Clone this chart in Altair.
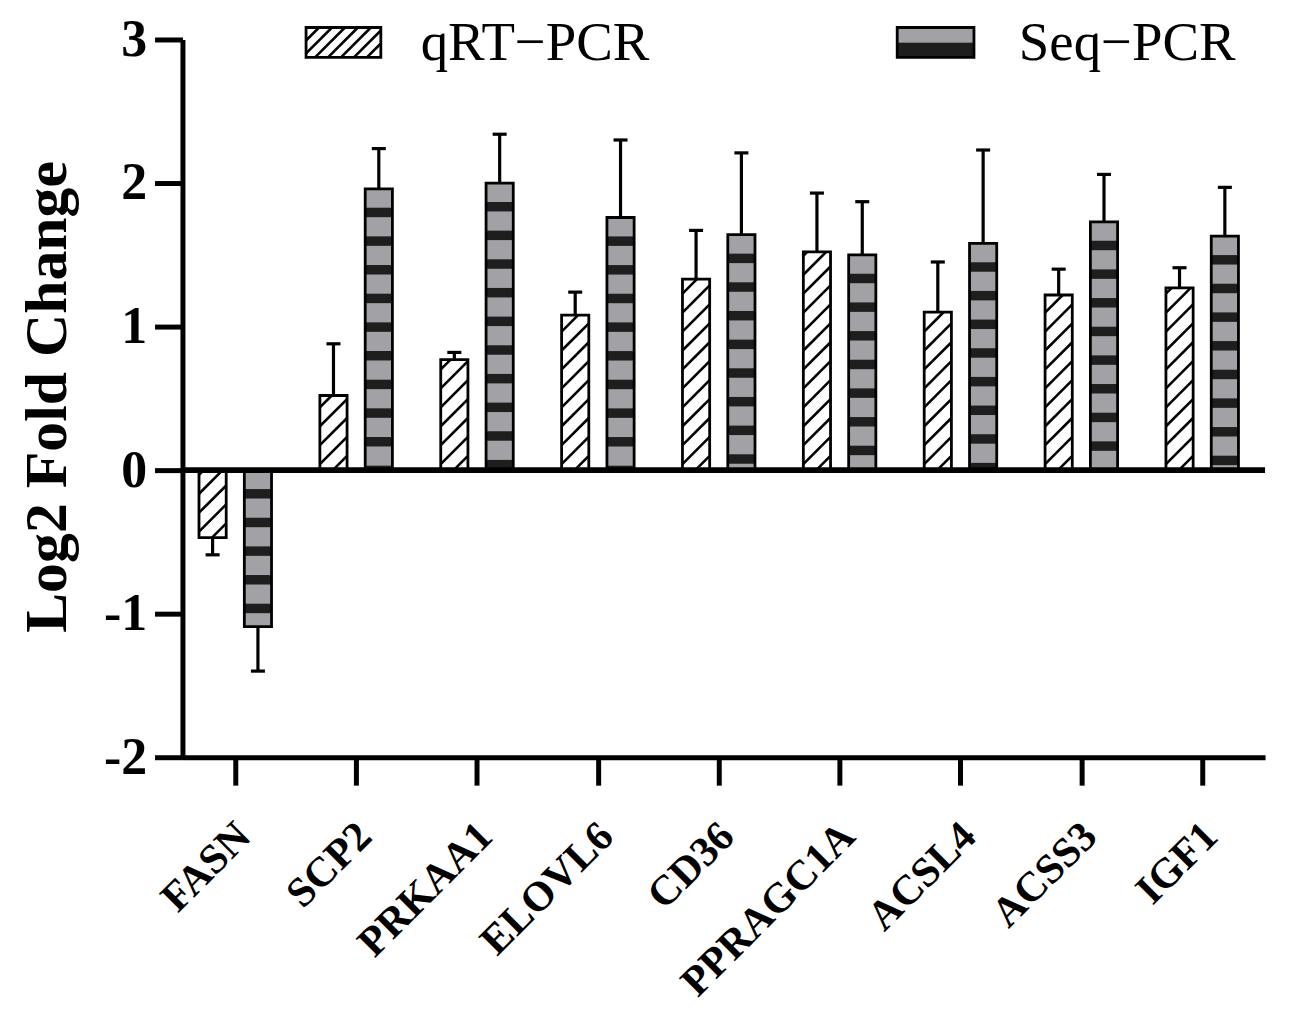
import math
import altair as alt
import pandas as pd

# ---------------- data ----------------
genes = ["FASN", "SCP2", "PRKAA1", "ELOVL6", "CD36", "PPRAGC1A", "ACSL4", "ACSS3", "IGF1"]
qrt = [-0.47, 0.52, 0.77, 1.08, 1.33, 1.52, 1.10, 1.22, 1.27]
qrt_err = [0.12, 0.36, 0.05, 0.16, 0.34, 0.41, 0.35, 0.18, 0.14]
seq = [-1.09, 1.96, 2.00, 1.76, 1.64, 1.50, 1.58, 1.73, 1.63]
seq_err = [0.31, 0.28, 0.34, 0.54, 0.57, 0.37, 0.65, 0.33, 0.34]
series = ["qRT\u2212PCR", "Seq\u2212PCR"]
y_ticks = [-2, -1, 0, 1, 2, 3]

# ---------------- layout / style ----------------
FONT = "Liberation Serif, Times New Roman, serif"
X_DOM = [-0.437, 8.52]
Y_DOM = [-2, 3]
PX_X = 121.25
W = int(round((X_DOM[1] - X_DOM[0]) * PX_X))
H = 720
PX_X = W / (X_DOM[1] - X_DOM[0])
PX_Y = H / (Y_DOM[1] - Y_DOM[0])
GRAY = "#a2a2a6"
DARK = "#1e1e1e"
OFFS = {series[0]: (-0.30, -0.075), series[1]: (0.075, 0.30)}

label_expr = "[" + ",".join("'%s'" % g for g in genes) + "][datum.value]"

xs = alt.Scale(domain=X_DOM, nice=False, zero=False)
ys = alt.Scale(domain=Y_DOM, nice=False, zero=False)
xaxis = alt.Axis(values=list(range(len(genes))), labelExpr=label_expr, title="",
                 grid=False, domainColor="black", domainWidth=5, tickColor="black",
                 tickWidth=5, tickSize=28, labelAngle=-45, labelAlign="right",
                 labelBaseline="middle", labelFont=FONT, labelFontSize=42,
                 labelFontWeight="bold", labelColor="black", labelPadding=44,
                 labelOffset=8, labelLimit=0,
                 labelFlush=False, labelOverlap=False)
yaxis = alt.Axis(values=y_ticks, labelExpr="'' + datum.value", title="Log2 Fold Change",
                 grid=False, domainColor="black", domainWidth=5, tickColor="black",
                 tickWidth=5, tickSize=28, labelFont=FONT, labelFontSize=52,
                 labelFontWeight="bold", labelColor="black", labelPadding=8,
                 labelFlush=False, labelOverlap=False,
                 titleFont=FONT, titleFontSize=60, titleFontWeight="bold",
                 titleColor="black", titleAngle=270, titleX=-135, titleY=358,
                 titleAlign="center", titleBaseline="middle")


def X(f):
    return alt.X(f, type="quantitative", scale=xs, axis=xaxis)


def Y(f):
    return alt.Y(f, type="quantitative", scale=ys, axis=yaxis)


def hatch(x0, x1, y0, y1, spacing=19.0, offset=6.0):
    """45-degree '/' hatch segments clipped to a rectangle (data units)."""
    w = (x1 - x0) * PX_X
    h = (y1 - y0) * PX_Y
    segs = []
    c = offset - math.ceil(w / spacing) * spacing
    while c < h:
        u0 = max(0.0, -c)
        u1 = min(w, h - c)
        if u1 > u0 + 0.5:
            segs.append(dict(hx=x0 + u0 / PX_X, hy=y0 + (c + u0) / PX_Y,
                             hx2=x0 + u1 / PX_X, hy2=y0 + (c + u1) / PX_Y))
        c += spacing
    return segs


def stripes(x0, x1, top, bottom, gap=19.0, band=9.5, period=28.75):
    out = []
    k = 0
    while True:
        a = top - (gap + period * k) / PX_Y
        b = top - (gap + band + period * k) / PX_Y
        if a <= bottom:
            break
        out.append(dict(sx=x0, sx2=x1, sy=a, sy2=max(b, bottom)))
        k += 1
    return out


# ---------------- derived tables ----------------
bar_rows, hatch_rows, stripe_rows = [], [], []
for i, g in enumerate(genes):
    for s, vals, errs in ((series[0], qrt, qrt_err), (series[1], seq, seq_err)):
        v, e = vals[i], errs[i]
        lo, hi = OFFS[s]
        x0, x1 = i + lo, i + hi
        xc = (x0 + x1) / 2
        tip = v + (e if v >= 0 else -e)
        bar_rows.append(dict(gene=g, series=s, x0=x0, x1=x1, xc=xc,
                             cl=xc - 0.058, cr=xc + 0.058, base=0.0, v=v, tip=tip,
                             fillc="white" if s == series[0] else GRAY))
        top, bottom = max(v, 0.0), min(v, 0.0)
        if s == series[0]:
            hatch_rows += hatch(x0, x1, bottom, top)
        else:
            stripe_rows += stripes(x0, x1, top, bottom)

bars = pd.DataFrame(bar_rows)
hatch_df = pd.DataFrame(hatch_rows)
stripe_df = pd.DataFrame(stripe_rows)
zero_df = pd.DataFrame([dict(zx=X_DOM[0], zx2=X_DOM[1], zy=0.0)])


# legend (placed in data space above the plot)
def px_to_x(px):
    return (px - 183.0) / PX_X + X_DOM[0]


def px_to_y(py):
    return Y_DOM[1] - (py - 38.0) / PX_Y


LG_TOP, LG_BOT = px_to_y(26), px_to_y(56)
lg_q = (px_to_x(307), px_to_x(382))
lg_s = (px_to_x(900), px_to_x(977))
legend_box = pd.DataFrame([
    dict(bx=lg_q[0], bx2=lg_q[1], by=LG_BOT, by2=LG_TOP, fillc="white"),
    dict(bx=lg_s[0], bx2=lg_s[1], by=(LG_TOP + LG_BOT) / 2, by2=LG_TOP, fillc=GRAY),
    dict(bx=lg_s[0], bx2=lg_s[1], by=LG_BOT, by2=(LG_TOP + LG_BOT) / 2, fillc=DARK),
])
legend_outline = pd.DataFrame([
    dict(bx=lg_q[0], bx2=lg_q[1], by=LG_BOT, by2=LG_TOP),
    dict(bx=lg_s[0], bx2=lg_s[1], by=LG_BOT, by2=LG_TOP),
])
legend_hatch = pd.DataFrame(hatch(lg_q[0], lg_q[1], LG_BOT, LG_TOP, spacing=13.0, offset=4.0))
legend_text = pd.DataFrame([
    dict(tx=px_to_x(422), ty=px_to_y(59), label=series[0]),
    dict(tx=px_to_x(1022), ty=px_to_y(59), label=series[1]),
])

# ---------------- layers ----------------
stems = alt.Chart(bars).mark_rule(color="black", strokeWidth=3.2).encode(
    x=X("xc"), y=Y("v"), y2="tip")
caps = alt.Chart(bars).mark_rule(color="black", strokeWidth=3.2).encode(
    x=X("cl"), x2="cr", y=Y("tip"))
bar_fill = alt.Chart(bars).mark_rect().encode(
    x=X("x0"), x2="x1", y=Y("base"), y2="v",
    fill=alt.Fill("fillc:N", scale=None))
stripe_layer = alt.Chart(stripe_df).mark_rect(fill=DARK).encode(
    x=X("sx"), x2="sx2", y=Y("sy"), y2="sy2")
hatch_layer = alt.Chart(hatch_df).mark_rule(color="black", strokeWidth=2.6).encode(
    x=X("hx"), y=Y("hy"), x2="hx2", y2="hy2")
bar_outline = alt.Chart(bars).mark_rect(fill="white", fillOpacity=0, stroke="black",
                                        strokeWidth=2.8).encode(
    x=X("x0"), x2="x1", y=Y("base"), y2="v")
zero_line = alt.Chart(zero_df).mark_rule(color="black", strokeWidth=6).encode(
    x=X("zx"), x2="zx2", y=Y("zy"))

lg_fill = alt.Chart(legend_box).mark_rect().encode(
    x=X("bx"), x2="bx2", y=Y("by"), y2="by2", fill=alt.Fill("fillc:N", scale=None))
lg_hatch = alt.Chart(legend_hatch).mark_rule(color="black", strokeWidth=2.6).encode(
    x=X("hx"), y=Y("hy"), x2="hx2", y2="hy2")
lg_outline = alt.Chart(legend_outline).mark_rect(fill="white", fillOpacity=0, stroke="black",
                                                 strokeWidth=2.8).encode(
    x=X("bx"), x2="bx2", y=Y("by"), y2="by2")
lg_text = alt.Chart(legend_text).mark_text(align="left", baseline="alphabetic", font=FONT,
                                           fontSize=55, color="black").encode(
    x=X("tx"), y=Y("ty"), text="label:N")

chart = alt.layer(
    stems, caps, bar_fill, stripe_layer, hatch_layer, bar_outline, zero_line,
    lg_fill, lg_hatch, lg_outline, lg_text
).properties(
    width=W, height=H,
    autosize=alt.AutoSizeParams(type="none"),
    padding={"left": 175, "top": 30, "right": 16, "bottom": 256},
    background="white",
).configure_view(stroke=None)

chart.save("out.html", embed_options={"renderer": "svg", "actions": False})
